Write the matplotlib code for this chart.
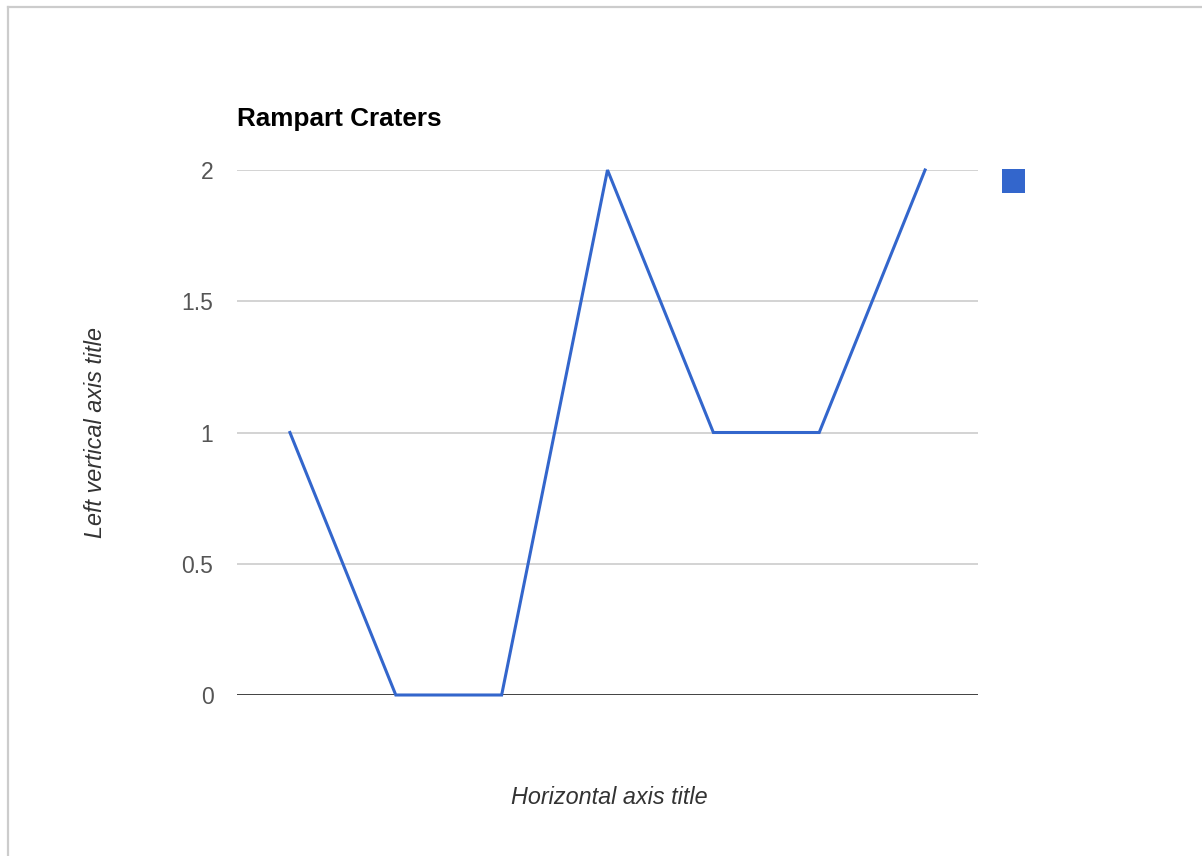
import matplotlib.pyplot as plt
from matplotlib.patches import Rectangle
from matplotlib.lines import Line2D

plt.rcParams['font.family'] = ['Liberation Sans', 'DejaVu Sans']

# crater counts per row
rows = [0, 1, 2, 3, 4, 5, 6]
counts = [1, 0, 0, 2, 1, 1, 2]
yticks = [0, 0.5, 1, 1.5, 2]
yticklabels = ['0', '0.5', '1', '1.5', '2']

W, H = 1202, 856
fig = plt.figure(figsize=(W / 100, H / 100), dpi=100)

# plot area in pixel terms
left, right, top, bottom = 237, 978, 170, 695
ax = fig.add_axes((left / W, 1 - bottom / H, (right - left) / W, (bottom - top) / H))

ax.plot(rows, counts, color='#3366cc', lw=2.2, solid_joinstyle='miter', zorder=3,
        clip_on=False)
ax.set_xlim(-0.5, 6.5)
ax.set_ylim(0, 2)

for v in yticks[1:]:
    ax.axhline(v, color='#cccccc', lw=1.2, zorder=1)
ax.axhline(0, color='#333333', lw=1.3, zorder=2)

ax.set_yticks(yticks)
ax.set_yticklabels(yticklabels, fontsize=16.5, color='#555555')
ax.tick_params(axis='y', length=0, pad=17)
ax.set_xticks([])
for s in ax.spines.values():
    s.set_visible(False)

# titles
fig.text(237 / W, 1 - 119 / H, 'Rampart Craters', fontsize=18.8, fontweight='bold',
         ha='left', va='center', color='black')
fig.text(609 / W, 1 - 798 / H, 'Horizontal axis title', fontsize=16.8, style='italic',
         ha='center', va='center', color='#333333')
fig.text(95 / W, 1 - 432 / H, 'Left vertical axis title', fontsize=16.8, style='italic',
         rotation=90, ha='center', va='center', color='#333333')

# legend swatch without a label
fig.patches.append(Rectangle((1002 / W, 1 - 193 / H), 23 / W, 24 / H,
                             transform=fig.transFigure, facecolor='#3366cc',
                             edgecolor='none'))

# outer frame on top and left
fig.add_artist(Line2D([7.5 / W, 1], [1 - 6.5 / H, 1 - 6.5 / H], color='#cccccc', lw=1.6,
                      transform=fig.transFigure))
fig.add_artist(Line2D([7.5 / W, 7.5 / W], [1 - 6.5 / H, 1 - 855 / H], color='#cccccc', lw=1.6,
                      transform=fig.transFigure))

fig.savefig('out.png', dpi=100, facecolor='white')
